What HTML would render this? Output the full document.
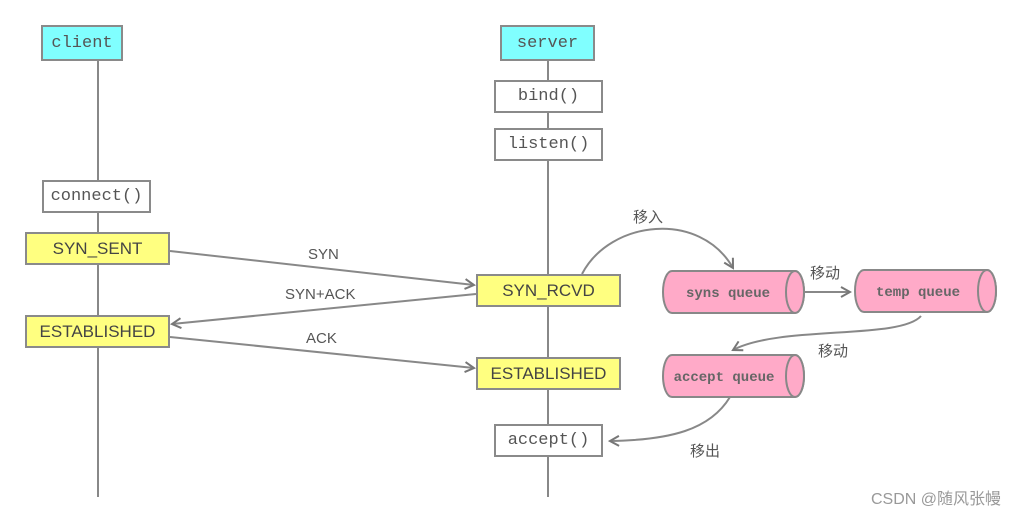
<!DOCTYPE html>
<html><head><meta charset="utf-8"><style>
body{margin:0;background:#fff;width:1022px;height:513px;overflow:hidden;position:relative;font-family:"Liberation Mono","Noto Sans CJK SC",monospace;}
.b{position:absolute;box-sizing:border-box;border:2px solid #8a8a8a;display:flex;align-items:center;justify-content:center;font-size:17px;color:#555;background:#fff}
.c{background:#80ffff}
.y{background:#ffff80;font-family:"Liberation Sans",sans-serif;font-size:17px;color:#444}
.t{position:absolute;font-size:15px;color:#555;font-family:"Liberation Sans","Noto Sans CJK SC",sans-serif}
</style></head><body>
<svg width="1022" height="513" style="position:absolute;left:0;top:0">
<defs><marker id="a" markerWidth="12" markerHeight="12" refX="10" refY="6" orient="auto" markerUnits="userSpaceOnUse"><path d="M1,1 L10,6 L1,11" fill="none" stroke="#777" stroke-width="2"/></marker></defs>
<g stroke="#888" stroke-width="2" fill="none">
<line x1="98" y1="61" x2="98" y2="497"/>
<line x1="548" y1="61" x2="548" y2="497"/>
<line x1="170" y1="251" x2="474" y2="285" marker-end="url(#a)"/>
<line x1="476" y1="294" x2="172" y2="324" marker-end="url(#a)"/>
<line x1="170" y1="337" x2="474" y2="368" marker-end="url(#a)"/>
<path d="M582,274 C610,220 700,210 733,268" marker-end="url(#a)"/>
<line x1="796" y1="292" x2="850" y2="292" marker-end="url(#a)"/>
<path d="M921,316 C900,340 780,325 733,350" marker-end="url(#a)"/>
<path d="M730,397 C710,430 670,440 610,441" marker-end="url(#a)"/>
</g>
<g stroke="#888" stroke-width="2" fill="#ffaac8">
<path d="M672,271 H795 A9,21 0 0 1 795,313 H672 A9,21 0 0 1 672,271Z"/>
<ellipse cx="795" cy="292" rx="9" ry="21"/>
<path d="M864,270 H987 A9,21 0 0 1 987,312 H864 A9,21 0 0 1 864,270Z"/>
<ellipse cx="987" cy="291" rx="9" ry="21"/>
<path d="M672,355 H795 A9,21 0 0 1 795,397 H672 A9,21 0 0 1 672,355Z"/>
<ellipse cx="795" cy="376" rx="9" ry="21"/>
</g>
<g font-family="Liberation Mono,monospace" font-size="14" font-weight="bold" fill="#666" text-anchor="middle">
<text x="728" y="297">syns queue</text>
<text x="918" y="296">temp queue</text>
<text x="724" y="381">accept queue</text>
</g>
</svg>
<div class="b c" style="left:41px;top:25px;width:82px;height:36px">client</div>
<div class="b c" style="left:500px;top:25px;width:95px;height:36px">server</div>
<div class="b" style="left:494px;top:80px;width:109px;height:33px">bind()</div>
<div class="b" style="left:494px;top:128px;width:109px;height:33px">listen()</div>
<div class="b" style="left:42px;top:180px;width:109px;height:33px">connect()</div>
<div class="b y" style="left:25px;top:232px;width:145px;height:33px">SYN_SENT</div>
<div class="b y" style="left:25px;top:315px;width:145px;height:33px">ESTABLISHED</div>
<div class="b y" style="left:476px;top:274px;width:145px;height:33px">SYN_RCVD</div>
<div class="b y" style="left:476px;top:357px;width:145px;height:33px">ESTABLISHED</div>
<div class="b" style="left:494px;top:424px;width:109px;height:33px">accept()</div>
<div class="t" style="left:308px;top:246px">SYN</div>
<div class="t" style="left:285px;top:286px">SYN+ACK</div>
<div class="t" style="left:306px;top:330px">ACK</div>
<div class="t" style="left:633px;top:206px">移入</div>
<div class="t" style="left:810px;top:262px">移动</div>
<div class="t" style="left:818px;top:340px">移动</div>
<div class="t" style="left:690px;top:440px">移出</div>
<div class="t" style="left:871px;top:485px;color:#999;font-size:16px">CSDN @随风张幔</div>
</body></html>
